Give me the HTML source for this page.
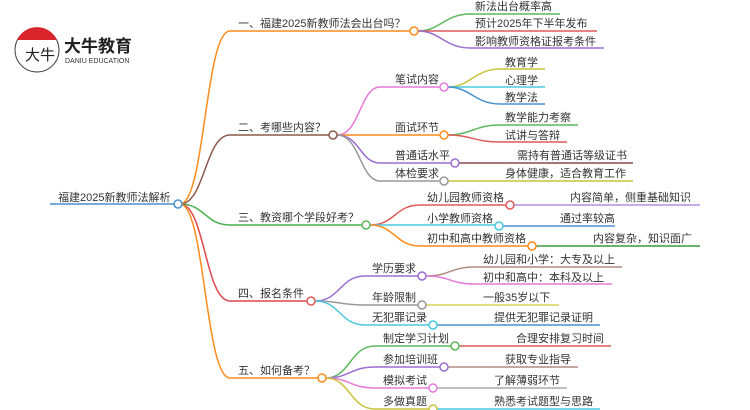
<!DOCTYPE html>
<html><head><meta charset="utf-8"><style>
body{margin:0;background:#fff}
svg{display:block}
text{font-family:"Liberation Sans","Noto Sans CJK SC",sans-serif;font-size:11px;fill:#333}
path{fill:none;stroke-width:1.5}
circle{fill:#fff;stroke-width:1.5}
</style></head><body>
<svg width="750" height="410" viewBox="0 0 750 410" xmlns="http://www.w3.org/2000/svg">
<!-- logo -->
<circle cx="37" cy="50" r="22" style="stroke:#444;stroke-width:1"/>
<path d="M17 40 A22 22 0 0 1 57 40 Z" style="fill:#d9262c;stroke:none"/>
<text x="25" y="60" style="font-size:15px;fill:#222">大牛</text>
<text x="64" y="52" style="font-size:17px;font-weight:bold;fill:#222">大牛教育</text>
<text x="65" y="63" style="font-size:7px;fill:#333">DANIU EDUCATION</text>

<!-- root -->
<path d="M50 204 H176" style="stroke:#4a90c8"/>
<text x="58" y="201">福建2025新教师法解析</text>

<!-- branches -->
<path d="M180 204 C205 204 205 31 230 31 H410" style="stroke:#ff8c1a"/>
<path d="M180 204 C205 204 205 135 230 135 H330" style="stroke:#8b5a4a"/>
<path d="M180 204 C205 204 205 225 230 225 H362" style="stroke:#4caf50"/>
<path d="M180 204 C205 204 205 301 230 301 H307" style="stroke:#e0474c"/>
<path d="M180 204 C205 204 205 378 230 378 H318" style="stroke:#ff8c1a"/>
<circle cx="178" cy="204" r="4" style="stroke:#4a90c8"/>

<text x="238" y="27">一、福建2025新教师法会出台吗？</text>
<text x="238" y="131">二、考哪些内容？</text>
<text x="238" y="221">三、教资哪个学段好考？</text>
<text x="238" y="297">四、报名条件</text>
<text x="238" y="374">五、如何备考？</text>

<!-- branch 1 children -->
<path d="M418 31 C440 31 445 14 470 14 H560" style="stroke:#5cb85c"/>
<path d="M418 31 H597" style="stroke:#e05a5a"/>
<path d="M418 31 C440 31 445 48 470 48 H604" style="stroke:#9b6fd0"/>
<circle cx="414" cy="31" r="4" style="stroke:#ff8c1a"/>
<text x="475" y="10">新法出台概率高</text>
<text x="475" y="27">预计2025年下半年发布</text>
<text x="475" y="45">影响教师资格证报考条件</text>

<!-- branch 2 children -->
<path d="M337 135 C360 135 360 87 380 87 H440" style="stroke:#e67ad9"/>
<path d="M337 135 H440" style="stroke:#ff8c1a"/>
<path d="M337 135 C360 135 360 163 380 163 H451" style="stroke:#9b6fd0"/>
<path d="M337 135 C360 135 360 181 380 181 H440" style="stroke:#999"/>
<circle cx="333" cy="135" r="4" style="stroke:#8b5a4a"/>
<text x="395" y="83">笔试内容</text>
<text x="395" y="131">面试环节</text>
<text x="395" y="159">普通话水平</text>
<text x="395" y="177">体检要求</text>

<path d="M448 87 C470 87 475 69 500 69 H545" style="stroke:#c8c43a"/>
<path d="M448 87 H545" style="stroke:#4ac8e0"/>
<path d="M448 87 C470 87 475 104 500 104 H545" style="stroke:#4a90d0"/>
<circle cx="444" cy="87" r="4" style="stroke:#e67ad9"/>
<text x="505" y="66">教育学</text>
<text x="505" y="84">心理学</text>
<text x="505" y="101">教学法</text>

<path d="M448 135 C470 135 475 125 500 125 H578" style="stroke:#5cb85c"/>
<path d="M448 135 C470 135 475 142 500 142 H567" style="stroke:#e05a5a"/>
<circle cx="444" cy="135" r="4" style="stroke:#ff8c1a"/>
<text x="505" y="121">教学能力考察</text>
<text x="505" y="139">试讲与答辩</text>

<path d="M459 163 H633" style="stroke:#8b4a4a"/>
<circle cx="455" cy="163" r="4" style="stroke:#9b6fd0"/>
<text x="517" y="159">需持有普通话等级证书</text>
<path d="M448 181 H633" style="stroke:#c8c43a"/>
<circle cx="444" cy="181" r="4" style="stroke:#999"/>
<text x="505" y="177">身体健康，适合教育工作</text>

<!-- branch 3 children -->
<path d="M370 225 C395 225 395 205 420 205 H506" style="stroke:#e05a5a"/>
<path d="M370 225 H495" style="stroke:#4ac8e0"/>
<path d="M370 225 C395 225 395 246 420 246 H528" style="stroke:#ff8c1a"/>
<circle cx="366" cy="225" r="4" style="stroke:#5cb85c"/>
<text x="427" y="201">幼儿园教师资格</text>
<text x="427" y="222">小学教师资格</text>
<text x="427" y="242">初中和高中教师资格</text>
<path d="M514 205 H700" style="stroke:#b48fe0"/>
<circle cx="510" cy="205" r="4" style="stroke:#e05a5a"/>
<text x="570" y="201">内容简单，侧重基础知识</text>
<path d="M503 226 H615" style="stroke:#4a90d0"/>
<circle cx="499" cy="226" r="4" style="stroke:#4ac8e0"/>
<text x="560" y="222">通过率较高</text>
<path d="M536 246 H700" style="stroke:#3a9a3a"/>
<circle cx="532" cy="246" r="4" style="stroke:#ff8c1a"/>
<text x="593" y="242">内容复杂，知识面广</text>

<!-- branch 4 children -->
<path d="M315 301 C340 301 340 276 365 276 H418" style="stroke:#9b6fd0"/>
<path d="M315 301 C340 301 340 305 365 305 H418" style="stroke:#999"/>
<path d="M315 301 C340 301 340 325 365 325 H429" style="stroke:#4ac8e0"/>
<circle cx="311" cy="301" r="4" style="stroke:#e05a5a"/>
<text x="372" y="272">学历要求</text>
<text x="372" y="301">年龄限制</text>
<text x="372" y="321">无犯罪记录</text>
<path d="M426 276 C450 276 450 267 475 267 H622" style="stroke:#b08a80"/>
<path d="M426 276 C450 276 450 284 475 284 H612" style="stroke:#e67ad9"/>
<circle cx="422" cy="276" r="4" style="stroke:#9b6fd0"/>
<text x="483" y="263">幼儿园和小学：大专及以上</text>
<text x="483" y="281">初中和高中：本科及以上</text>
<path d="M426 305 H559" style="stroke:#d8d460"/>
<circle cx="422" cy="305" r="4" style="stroke:#999"/>
<text x="483" y="301">一般35岁以下</text>
<path d="M437 325 H600" style="stroke:#4a90d0"/>
<circle cx="433" cy="325" r="4" style="stroke:#4ac8e0"/>
<text x="494" y="321">提供无犯罪记录证明</text>

<!-- branch 5 children -->
<path d="M326 378 C350 378 350 346 375 346 H451" style="stroke:#5cb85c"/>
<path d="M326 378 C350 378 350 367 375 367 H440" style="stroke:#9b6fd0"/>
<path d="M326 378 C350 378 350 388 375 388 H429" style="stroke:#e67ad9"/>
<path d="M326 378 C350 378 350 409 375 409 H429" style="stroke:#c8c43a"/>
<circle cx="322" cy="378" r="4" style="stroke:#ff8c1a"/>
<text x="383" y="342">制定学习计划</text>
<text x="383" y="363">参加培训班</text>
<text x="383" y="384">模拟考试</text>
<text x="383" y="405">多做真题</text>
<path d="M459 346 H611" style="stroke:#e05a5a"/>
<circle cx="455" cy="346" r="4" style="stroke:#5cb85c"/>
<text x="516" y="342">合理安排复习时间</text>
<path d="M448 367 H578" style="stroke:#b08a80"/>
<circle cx="444" cy="367" r="4" style="stroke:#9b6fd0"/>
<text x="505" y="363">获取专业指导</text>
<path d="M437 388 H567" style="stroke:#aaa"/>
<circle cx="433" cy="388" r="4" style="stroke:#e67ad9"/>
<text x="494" y="384">了解薄弱环节</text>
<path d="M437 409 H600" style="stroke:#4ac8e0"/>
<circle cx="433" cy="409" r="4" style="stroke:#c8c43a"/>
<text x="494" y="405">熟悉考试题型与思路</text>
</svg>
</body></html>
